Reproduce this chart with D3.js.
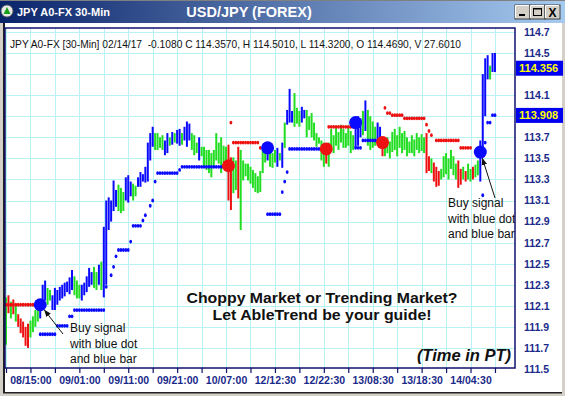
<!DOCTYPE html>
<html><head><meta charset="utf-8">
<script src="https://cdn.jsdelivr.net/npm/d3@7/dist/d3.min.js"></script>
<style>body{margin:0;background:#fff;overflow:hidden}svg{display:block}</style>
</head><body><svg id="c" width="565" height="396"></svg>
<script>
// ---- data (30-min bars, index 0..200) ----
const highs = [112.18,112.20,112.14,112.16,112.10,112.02,111.98,111.95,111.90,111.93,
111.96,112.00,112.06,112.12,112.15,112.30,112.34,112.27,112.25,112.20,
112.27,112.25,112.28,112.30,112.32,112.33,112.37,112.44,112.38,112.34,
112.30,112.30,112.32,112.38,112.46,112.42,112.47,112.42,112.49,112.52,
112.85,113.10,113.13,113.10,113.29,113.20,113.25,113.22,113.18,113.32,
113.34,113.28,113.26,113.24,113.32,113.37,113.35,113.42,113.65,113.74,
113.80,113.74,113.74,113.70,113.72,113.67,113.74,113.70,113.75,113.74,
113.77,113.78,113.74,113.80,113.85,113.83,113.74,113.72,113.65,113.70,
113.61,113.61,113.58,113.58,113.55,113.58,113.74,113.65,113.70,113.62,
113.61,113.63,113.51,113.51,113.48,113.61,113.58,113.48,113.45,113.45,
113.42,113.39,113.36,113.33,113.38,113.58,113.60,113.61,113.58,113.55,
113.58,113.60,113.55,113.65,113.84,113.96,114.16,113.95,114.12,113.98,
113.95,113.99,113.96,113.96,113.90,113.93,113.84,113.74,113.70,113.67,
113.65,113.62,113.65,113.78,113.72,113.80,113.75,113.82,113.78,113.74,
113.80,113.76,113.72,113.86,113.90,113.88,113.95,114.05,113.96,113.90,
113.85,113.80,113.84,113.80,113.70,113.67,113.70,113.66,113.75,113.78,
113.72,113.80,113.74,113.76,113.70,113.66,113.72,113.68,113.74,113.70,
113.73,113.70,113.74,113.52,113.50,113.46,113.42,113.38,113.40,113.52,
113.55,113.50,113.58,113.52,113.45,113.48,113.40,113.42,113.38,113.45,
113.40,113.42,113.44,113.48,113.67,114.30,114.45,114.48,114.38,114.50,
114.501];
const lows = [111.73,112.03,111.98,112.02,111.95,111.90,111.84,111.80,111.72,111.70,
111.80,111.85,111.90,111.95,111.98,112.11,112.15,112.11,112.15,112.06,
112.06,112.11,112.15,112.17,112.19,112.23,112.21,112.25,112.20,112.17,
112.17,112.15,112.20,112.23,112.28,112.30,112.27,112.25,112.30,112.25,
112.18,112.30,112.82,112.90,113.00,113.04,113.00,112.98,113.00,113.10,
113.08,113.14,113.10,113.14,113.23,113.23,113.28,113.27,113.28,113.48,
113.61,113.58,113.58,113.60,113.58,113.53,113.55,113.62,113.63,113.65,
113.64,113.62,113.63,113.67,113.61,113.67,113.58,113.53,113.55,113.48,
113.52,113.42,113.39,113.36,113.32,113.42,113.48,113.45,113.36,113.40,
113.39,113.10,113.01,113.17,113.20,113.12,112.82,113.29,113.33,113.29,
113.26,113.22,113.18,113.17,113.18,113.36,113.46,113.48,113.42,113.41,
113.46,113.42,113.48,113.41,113.60,113.82,113.84,113.84,113.80,113.83,
113.80,113.84,113.88,113.70,113.77,113.70,113.67,113.61,113.64,113.48,
113.42,113.45,113.42,113.60,113.55,113.62,113.58,113.65,113.60,113.60,
113.62,113.55,113.58,113.60,113.62,113.70,113.72,113.76,113.62,113.58,
113.60,113.62,113.66,113.64,113.52,113.52,113.55,113.50,113.56,113.58,
113.52,113.60,113.55,113.58,113.52,113.55,113.55,113.52,113.58,113.55,
113.57,113.55,113.36,113.38,113.36,113.28,113.23,113.24,113.30,113.32,
113.35,113.30,113.40,113.34,113.30,113.22,113.25,113.30,113.28,113.30,
113.28,113.30,113.32,113.34,113.28,113.55,113.90,114.25,114.25,114.32,
114.32];
// g = green (neutral), b = blue (up trend), r = red (down trend); 10 bars per chunk
const barColors = [
 "grgrgrrrrr","ggggbbbggb","bbbbbbbbgg","gbbbbbggbg",
 "bbbbbbgggb","bbggbbbbbb","bggggbbgbg","bbgbbbgggb",
 "gggggggggg","grrggrgggg","gggggggbgg","gbgbgbbbgg",
 "gbbggggggg","grgggggggg","gggbbbgbgg","ggbbrggggg",
 "gggggggggg","ggrrgrrrgg","gggggrrgrg","grggbbbbgb",
 "b"].join("");
const blueStops = [
 [14,111.83],[15,111.83],[16,111.83],[17,111.83],[18,111.83],[19,111.83],[20,111.83],
 [21,111.91],[22,111.91],[23,111.91],[24,111.91],[25,111.91],
 [26,112.00],[27,112.00],
 [28,112.06],[29,112.06],[30,112.06],[31,112.06],[32,112.06],[33,112.06],[34,112.06],
 [35,112.06],[36,112.06],[37,112.06],[38,112.06],[39,112.06],[40,112.06],
 [41,112.28],[43,112.39],[44,112.47],[45,112.57],
 [46,112.63],[47,112.63],[48,112.63],[49,112.63],[50,112.63],[51,112.71],
 [52,112.86],[53,112.86],[54,112.86],[55,112.86],[56,112.91],[57,112.96],
 [59,113.05],[60,113.10],[61,113.28],
 [62,113.36],[63,113.36],[64,113.36],[65,113.36],[66,113.36],[67,113.36],[68,113.36],[69,113.36],[70,113.36],
 [71,113.39],
 [72,113.42],[73,113.42],[74,113.42],[75,113.42],[76,113.42],[77,113.42],[78,113.42],[79,113.42],[80,113.42],
 [81,113.42],[82,113.42],[83,113.42],[84,113.42],[85,113.42],[86,113.42],[87,113.42],[88,113.42],[89,113.42],
 [107,112.97],[108,112.97],[109,112.97],[110,112.97],[111,112.97],[112,112.97],
 [113,113.18],[114,113.28],[115,113.37],
 [116,113.59],[117,113.59],[118,113.59],[119,113.59],[120,113.59],[121,113.59],[122,113.59],
 [123,113.59],[124,113.59],[125,113.59],[126,113.59],[127,113.59],[128,113.59],
 [143,113.60],[144,113.60],[145,113.60],
 [146,113.67],[147,113.67],[148,113.67],[149,113.67],[150,113.67],[151,113.67],[152,113.67],[153,113.67],
 [195,113.15],[196,113.65],[197,113.84],[198,113.84],[199,113.91],[200,113.91]
];
const redStops = [
 [0,112.11],[1,112.11],[2,112.11],[3,112.11],[4,112.11],[5,112.11],[6,112.11],[7,112.11],
 [8,112.11],[9,112.11],[10,112.11],[11,112.11],
 [92,113.84],
 [93,113.65],[94,113.65],[95,113.65],[96,113.65],[97,113.65],[98,113.65],[99,113.65],
 [100,113.65],[101,113.65],[102,113.65],[103,113.65],[104,113.60],
 [132,113.80],[133,113.80],[134,113.80],[135,113.80],[136,113.80],[137,113.80],[138,113.80],
 [139,113.80],[140,113.80],[141,113.80],[142,113.80],
 [155,113.98],[156,113.93],[157,113.93],
 [158,113.91],[159,113.91],[160,113.91],[161,113.91],[162,113.91],
 [163,113.88],[164,113.88],[165,113.88],[166,113.88],[167,113.88],[168,113.88],[169,113.88],[170,113.88],[171,113.88],
 [172,113.82],[173,113.76],[174,113.72],
 [176,113.67],[177,113.67],[178,113.67],[179,113.67],[180,113.67],[181,113.67],[182,113.67],[183,113.67],[184,113.67],[185,113.67],
 [186,113.60],[187,113.60],[188,113.60],[189,113.60],[190,113.60]
];
const buySignals = [[14,112.11],[107,113.60],[143,113.84],[194,113.56]];
const sellSignals = [[91,113.43],[131,113.59],[154,113.65]];
const yTicks = [111.5,111.7,111.9,112.1,112.3,112.5,112.7,112.9,113.1,113.3,113.5,113.7,113.9,114.1,114.3,114.5,114.7];
const hiddenTicks = [113.9,114.3];
const xTickIdx = [0,10,20,30,40,50,60,70,80,90,100,110,120,130,140,150,160,170,180,190,200];
const xTickLabels = {10:"08/15:00",30:"09/01:00",50:"09/11:00",70:"09/21:00",90:"10/07:00",
  110:"12/12:30",130:"12/22:30",150:"13/08:30",170:"13/18:30",190:"14/04:30"};
const lastClose = 114.356, lastStop = 113.908;

// ---- drawing ----
const svg = d3.select("#c");
const W = 565, H = 396;
const P = {l:5, t:28, r:515, b:368};
const x = d3.scaleLinear().domain([0, 208.6]).range([6, 516]);
const y = d3.scaleLinear().domain([111.5, 114.7]).range([369, 32]);
const colorMap = {g:"#22dd22", b:"#0a0aff", r:"#ee1111"};

const defs = svg.append("defs");
const grad = defs.append("linearGradient").attr("id","tb");
grad.append("stop").attr("offset","0%").attr("stop-color","#0a246a");
grad.append("stop").attr("offset","100%").attr("stop-color","#a6caf0");
defs.append("clipPath").attr("id","pc").append("rect")
  .attr("x",P.l).attr("y",P.t).attr("width",P.r-P.l).attr("height",P.b-P.t);
const mk = defs.append("marker").attr("id","ah").attr("viewBox","0 0 10 10")
  .attr("refX",10).attr("refY",5).attr("markerWidth",7).attr("markerHeight",7)
  .attr("orient","auto-start-reverse").attr("markerUnits","userSpaceOnUse");
mk.append("path").attr("d","M0,1 L10,5 L0,9 Z").attr("fill","#111");

svg.append("rect").attr("width",W).attr("height",H).attr("fill","#fff");

// window chrome
svg.append("rect").attr("x",0).attr("y",0).attr("width",W).attr("height",23).attr("fill","url(#tb)");
svg.append("rect").attr("x",0).attr("y",0).attr("width",W).attr("height",1).attr("fill","#808080");
svg.append("rect").attr("x",0).attr("y",23).attr("width",3).attr("height",H-23).attr("fill","#d4d0c8");
svg.append("rect").attr("x",3).attr("y",23).attr("width",2).attr("height",H-23).attr("fill","#202020");
svg.append("rect").attr("x",W-3).attr("y",23).attr("width",3).attr("height",H-23).attr("fill","#d4d0c8");
svg.append("rect").attr("x",0).attr("y",H-4).attr("width",W).attr("height",4).attr("fill","#d4d0c8");
svg.append("rect").attr("x",3).attr("y",H-4).attr("width",W-6).attr("height",1.5).attr("fill","#202020");

// icon
const ic = svg.append("g").attr("transform","translate(7,11)");
ic.append("circle").attr("r",6).attr("fill","#e8e8e8").attr("stroke","#555").attr("stroke-width",0.8);
ic.append("path").attr("d","M-3.5,3 L0,-4 L3.5,3 Z").attr("fill","#18a018");

const F = "Liberation Sans, Arial, sans-serif";
svg.append("text").attr("x",17).attr("y",16).text("JPY A0-FX 30-Min")
  .attr("fill","#fff").attr("font-family",F).attr("font-weight","bold").attr("font-size",11);
svg.append("text").attr("x",249).attr("y",17).attr("text-anchor","middle").text("USD/JPY (FOREX)")
  .attr("fill","#fff").attr("font-family",F).attr("font-weight","bold").attr("font-size",14.5);

// window buttons
const btns = [{x:515,s:"_"},{x:530,s:"□"},{x:545,s:"X"}];
btns.forEach(b=>{
  const g = svg.append("g").attr("transform",`translate(${b.x},5)`);
  g.append("rect").attr("width",15).attr("height",14).attr("fill","#d4d0c8").attr("stroke","#404040").attr("stroke-width",1);
  g.append("path").attr("d","M0.5,13 L0.5,0.5 L14,0.5").attr("fill","none").attr("stroke","#fff");
  if(b.s==="_") g.append("rect").attr("x",4).attr("y",9).attr("width",6).attr("height",2).attr("fill","#000");
  else if(b.s==="□"){ g.append("rect").attr("x",3.5).attr("y",3.5).attr("width",8).attr("height",7).attr("fill","none").attr("stroke","#000");
    g.append("rect").attr("x",3.5).attr("y",3).attr("width",8).attr("height",1.5).attr("fill","#000"); }
  else g.append("text").attr("x",7.5).attr("y",11.5).attr("text-anchor","middle").text("X")
        .attr("font-family",F).attr("font-weight","bold").attr("font-size",12);
});

// grid
const grid = svg.append("g").attr("clip-path","url(#pc)");
grid.selectAll("line.h").data(yTicks).join("line")
  .attr("x1",P.l).attr("x2",P.r).attr("y1",d=>Math.round(y(d))+0.5).attr("y2",d=>Math.round(y(d))+0.5)
  .attr("stroke","#b8f2f2").attr("stroke-width",1);
grid.selectAll("line.v").data(xTickIdx).join("line")
  .attr("y1",P.t).attr("y2",P.b).attr("x1",d=>Math.round(x(d))+0.5).attr("x2",d=>Math.round(x(d))+0.5)
  .attr("stroke","#b8f2f2").attr("stroke-width",1);

const plot = svg.append("g").attr("clip-path","url(#pc)");

// bars
plot.selectAll("rect.bar").data(highs.map((h,i)=>({i,h,l:lows[i],c:barColors[i]}))).join("rect")
  .attr("x",d=>x(d.i)-1).attr("width",2)
  .attr("y",d=>y(d.h)).attr("height",d=>Math.max(1.5,y(d.l)-y(d.h)))
  .attr("fill",d=>colorMap[d.c]);

// stop dots
function drawStops(data, col){
  for(let k=1;k<data.length;k++){
    const a=data[k-1], b=data[k];
    if(b[0]-a[0]===1 && a[1]===b[1]){
      plot.append("line").attr("x1",x(a[0])).attr("x2",x(b[0])).attr("y1",y(a[1])).attr("y2",y(b[1]))
        .attr("stroke",col).attr("stroke-width",1);
    }
  }
  plot.selectAll(null).data(data).join("ellipse")
    .attr("cx",d=>x(d[0])).attr("cy",d=>y(d[1])).attr("rx",1.4).attr("ry",1.9).attr("fill",col);
}
drawStops(blueStops, "#0a0aff");
drawStops(redStops, "#ee1111");

// signals
plot.selectAll(null).data(buySignals).join("circle")
  .attr("cx",d=>x(d[0])).attr("cy",d=>y(d[1])).attr("r",6.5).attr("fill","#0a0aff");
plot.selectAll(null).data(sellSignals).join("circle")
  .attr("cx",d=>x(d[0])).attr("cy",d=>y(d[1])).attr("r",6.5).attr("fill","#ee1111");

// annotations
const ann = svg.append("g").attr("clip-path","url(#pc)");
function lines(x0, y0, arr){
  arr.forEach((s,k)=>ann.append("text").attr("x",x0).attr("y",y0+k*15.5).text(s)
    .attr("font-family",F).attr("font-size",12).attr("fill","#111"));
}
lines(70, 332, ["Buy signal","with blue dot","and blue bar"]);
lines(448, 207, ["Buy signal","with blue dot","and blue bar"]);
ann.append("line").attr("x1",63).attr("y1",334).attr("x2",x(buySignals[0][0])+4).attr("y2",y(buySignals[0][1])+5)
  .attr("stroke","#111").attr("stroke-width",1).attr("marker-end","url(#ah)");
ann.append("line").attr("x1",495).attr("y1",198).attr("x2",x(buySignals[3][0])+2).attr("y2",y(buySignals[3][1])+6)
  .attr("stroke","#111").attr("stroke-width",1).attr("marker-end","url(#ah)");

ann.append("text").attr("x",322).attr("y",303).attr("text-anchor","middle").text("Choppy Market or Trending Market?")
  .attr("font-family",F).attr("font-weight","bold").attr("font-size",15).attr("fill","#111")
  .attr("textLength",271).attr("lengthAdjust","spacingAndGlyphs");
ann.append("text").attr("x",322).attr("y",320).attr("text-anchor","middle").text("Let AbleTrend be your guide!")
  .attr("font-family",F).attr("font-weight","bold").attr("font-size",15).attr("fill","#111")
  .attr("textLength",219).attr("lengthAdjust","spacingAndGlyphs");
ann.append("text").attr("x",511).attr("y",361).attr("text-anchor","end").text("(Time in PT)")
  .attr("font-family",F).attr("font-weight","bold").attr("font-style","italic").attr("font-size",16.5).attr("fill","#111");

svg.append("text").attr("x",10).attr("y",48)
  .text("JPY A0-FX [30-Min] 02/14/17  -0.1080 C 114.3570, H 114.5010, L 114.3200, O 114.4690, V 27.6010")
  .attr("font-family",F).attr("font-size",11).attr("fill","#111").attr("xml:space","preserve")
  .attr("textLength",451).attr("lengthAdjust","spacingAndGlyphs");

// plot border
svg.append("rect").attr("x",P.l).attr("y",P.t).attr("width",P.r-P.l).attr("height",P.b-P.t)
  .attr("fill","none").attr("stroke","#10106e").attr("stroke-width",1.5);

// x axis
const xAxis = d3.axisBottom(x).tickValues(xTickIdx).tickSize(5).tickPadding(4)
  .tickFormat(d=>xTickLabels[d]||"");
const gx = svg.append("g").attr("transform",`translate(0,${P.b})`).call(xAxis);
gx.select(".domain").remove();
gx.selectAll(".tick line").attr("stroke","#10106e").attr("stroke-width",1.2);
gx.selectAll(".tick text").attr("fill","#1a2a8a").attr("font-family",F).attr("font-weight","bold").attr("font-size",10.5);

// y axis
const yAxis = d3.axisRight(y).tickValues(yTicks.filter(v=>!hiddenTicks.includes(v))).tickSize(0).tickPadding(0)
  .tickFormat(d3.format(".1f"));
const gy = svg.append("g").attr("transform","translate(524,0)").call(yAxis);
gy.select(".domain").remove();
gy.selectAll(".tick text").attr("fill","#1a2a8a").attr("font-family",F).attr("font-weight","bold").attr("font-size",10.5);

// value boxes
[[lastClose,"114.356"],[lastStop,"113.908"]].forEach(([v,s])=>{
  svg.append("rect").attr("x",516).attr("y",y(v)-7.5).attr("width",47).attr("height",15).attr("fill","#0000f0");
  svg.append("text").attr("x",519).attr("y",y(v)+4).text(s).attr("fill","#ffff00")
    .attr("font-family",F).attr("font-weight","bold").attr("font-size",11);
});
</script></body></html>
